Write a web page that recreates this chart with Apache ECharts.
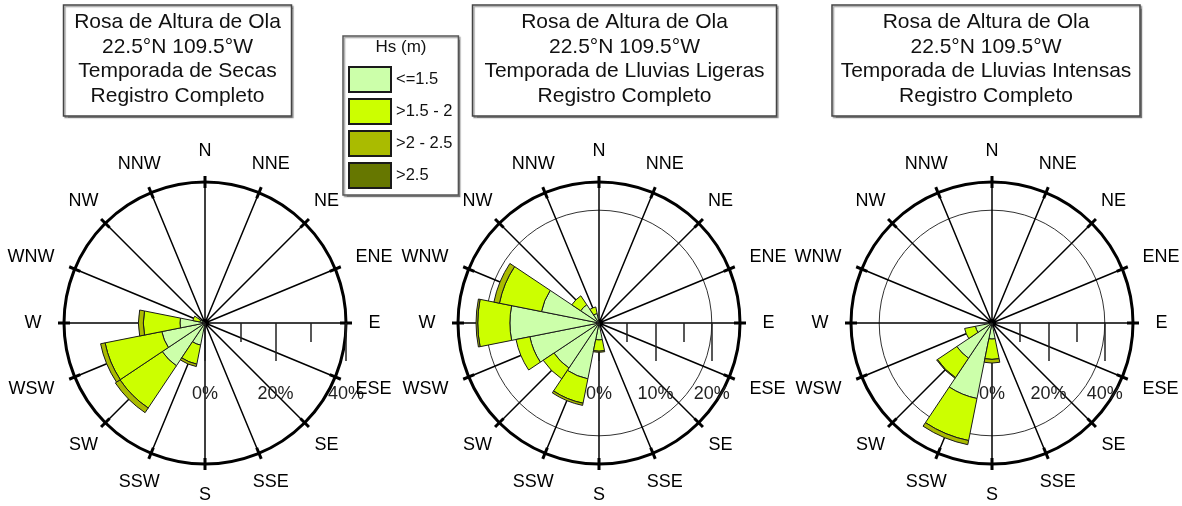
<!DOCTYPE html>
<html>
<head>
<meta charset="utf-8">
<script src="https://cdn.jsdelivr.net/npm/echarts@6/dist/echarts.min.js"></script>
<style>
  html, body { margin: 0; padding: 0; background: #fff; }
  #chart { width: 1182px; height: 506px; }
</style>
</head>
<body>
<div id="chart"></div>
<script>
const FONT = 'Liberation Sans, Arial, sans-serif'

const directions = ['N', 'NNE', 'NE', 'ENE', 'E', 'ESE', 'SE', 'SSE', 'S', 'SSW', 'SW', 'WSW', 'W', 'WNW', 'NW', 'NNW']
const classNames = ['<=1.5', '>1.5 - 2', '>2 - 2.5', '>2.5']
const classColors = ['#ccffaa', '#ccff00', '#aabb00', '#667700']

// frecuencia (%) por dirección, una lista por clase de Hs
const secasLow   = [0, 0, 0, 0, 0, 0, 0, 0, 0, 6.4, 14.6, 12.5, 7.1, 1.5, 0, 0]
const secasMid   = [0, 0, 0, 0, 0, 0, 0, 0, 0, 5.5, 14.4, 16.4, 10.4, 2.0, 0, 0]
const secasHigh  = [0, 0, 0, 0, 0, 0, 0, 0, 0, 0.7, 1.6, 1.3, 1.4, 0, 0, 0]
const secasTop   = [0, 0, 0, 0, 0, 0, 0, 0, 0, 0, 0, 0, 0, 0, 0, 0]

const ligerasLow  = [0, 0, 0, 0, 0, 0, 0, 0, 3.0, 10.1, 9.6, 12.5, 15.8, 10.4, 3.9, 1.7]
const ligerasMid  = [0, 0, 0, 0, 0, 0, 0, 0, 2.0, 4.4, 2.3, 2.5, 5.7, 7.6, 1.9, 1.2]
const ligerasHigh = [0, 0, 0, 0, 0, 0, 0, 0, 0.2, 0.4, 0, 0, 0.3, 1.0, 0, 0]
const ligerasTop  = [0, 0, 0, 0, 0, 0, 0, 0, 0, 0, 0, 0, 0, 0, 0, 0]

const intensasLow  = [0, 0, 0, 0, 0, 0, 0, 0, 5.7, 27.3, 15.0, 6.0, 0, 0, 0, 0]
const intensasMid  = [0, 0, 0, 0, 0, 0, 0, 0, 7.2, 15.2, 8.3, 3.9, 0, 0, 0, 0]
const intensasHigh = [0, 0, 0, 0, 0, 0, 0, 0, 1.3, 1.5, 0.3, 0, 0, 0, 0, 0]
const intensasTop  = [0, 0, 0, 0, 0, 0, 0, 0, 0, 0, 0, 0, 0, 0, 0, 0]

const titleLines = ['Rosa de Altura de Ola', '22.5°N 109.5°W']
const seasons = ['Temporada de Secas', 'Temporada de Lluvias Ligeras', 'Temporada de Lluvias Intensas']
const recordLabel = 'Registro Completo'

// escala radial: máximo del círculo exterior y máximo rotulado
const outerMax = [40, 25, 50]
const labelMax = [40, 20, 40]
const labelStep = [20, 10, 20]

const roses = [
  [secasLow, secasMid, secasHigh, secasTop],
  [ligerasLow, ligerasMid, ligerasHigh, ligerasTop],
  [intensasLow, intensasMid, intensasHigh, intensasTop]
]

// layout
const centers = [[205, 323], [599, 323], [992, 323]]
const R = 141
const LABEL_R = 172
const titleBoxes = [[177.5, 229], [624.5, 305], [986, 308]]

// los rótulos laterales se alinean por el borde, el resto centrado
const labelSide = d => ['ENE', 'E', 'ESE'].includes(d) ? 'right'
  : ['WSW', 'W', 'WNW'].includes(d) ? 'left' : 'inside'

const polar = []
const angleAxis = []
const radiusAxis = []
const series = []
const title = []

roses.forEach((rose, k) => {
  const c = centers[k]
  const tickR = R * labelMax[k] / outerMax[k]

  // rejilla: radios y círculo exterior
  polar.push({ center: c, radius: R })
  angleAxis.push({
    polarIndex: 3 * k,
    type: 'value', min: 0, max: 360, interval: 22.5,
    startAngle: 90, clockwise: true,
    axisLine: { lineStyle: { color: '#000', width: 3 } },
    axisTick: { show: true, length: 6, lineStyle: { color: '#000', width: 3 } },
    axisLabel: { show: false },
    splitLine: { show: true, lineStyle: { color: '#000', width: 1.5 } },
    z: 1
  })
  radiusAxis.push({ polarIndex: 3 * k, min: 0, max: 1, show: false })

  // escala de porcentaje a lo largo del eje E
  polar.push({ center: c, radius: tickR })
  angleAxis.push({
    polarIndex: 3 * k + 1,
    type: 'value', min: 0, max: 360, startAngle: 0,
    axisLine: { show: false }, axisTick: { show: false },
    axisLabel: { show: false }, splitLine: { show: false }
  })
  radiusAxis.push({
    polarIndex: 3 * k + 1,
    min: 0, max: labelMax[k], interval: labelStep[k],
    axisLine: { show: false },
    axisTick: { show: true, length: -38, lineStyle: { color: '#222', width: 1.5 } },
    minorTick: { show: true, splitNumber: 2, length: -19, lineStyle: { color: '#222', width: 1.5 } },
    axisLabel: {
      margin: -80, fontSize: 18, color: '#222', fontFamily: FONT,
      formatter: '{value}%'
    },
    splitLine: {
      show: true,
      lineStyle: { color: ['rgba(0,0,0,0)', 'rgba(0,0,0,0)', '#333'], width: 1 }
    },
    z: 1
  })

  // barras apiladas por dirección
  polar.push({ center: c, radius: R })
  angleAxis.push({
    polarIndex: 3 * k + 2,
    type: 'category', data: directions,
    startAngle: 90 + 11.25, clockwise: true,
    axisLine: { show: false }, axisLabel: { show: false }, splitLine: { show: false },
    axisTick: { show: true, alignWithLabel: true, inside: true, length: 6, lineStyle: { color: '#000', width: 3 } }
  })
  radiusAxis.push({ polarIndex: 3 * k + 2, min: 0, max: outerMax[k], show: false })

  rose.forEach((values, j) => {
    series.push({
      type: 'bar',
      name: classNames[j],
      coordinateSystem: 'polar',
      polarIndex: 3 * k + 2,
      stack: 'rose' + k,
      barCategoryGap: '0%',
      data: values.map(v => v === 0 ? '-' : v),
      itemStyle: { color: classColors[j], borderColor: '#1a1a1a', borderWidth: 1 },
      silent: true,
      z: 3
    })
  })

  // rótulos de dirección sobre cada radio
  series.push({
    type: 'scatter',
    name: 'dir' + k,
    coordinateSystem: 'polar',
    polarIndex: 3 * k + 2,
    clip: false,
    silent: true,
    symbolSize: 1,
    itemStyle: { color: 'rgba(0,0,0,0)', opacity: 1 },
    data: directions.map(d => ({
      value: [outerMax[k] * LABEL_R / R, d],
      label: { position: labelSide(d), distance: labelSide(d) === 'inside' ? 0 : -9 }
    })),
    label: {
      show: true, opacity: 1,
      formatter: p => p.data.value[1],
      fontSize: 18, color: '#000', fontFamily: FONT
    },
    z: 4
  })

  title.push({
    text: [titleLines[0], titleLines[1], seasons[k], recordLabel].join('\n'),
    left: titleBoxes[k][0], top: 5, textAlign: 'center',
    padding: [5, 0, 8, 0],
    backgroundColor: '#fff', borderColor: '#444', borderWidth: 1.5,
    shadowColor: 'rgba(0,0,0,0.35)', shadowBlur: 1, shadowOffsetX: 1.5, shadowOffsetY: 1.5,
    textStyle: {
      fontSize: 21, lineHeight: 24.5, fontWeight: 'normal', color: '#111',
      fontFamily: FONT, width: titleBoxes[k][1]
    }
  })
})

title.push({
  text: 'Hs (m)', left: 401, top: 39, textAlign: 'center', padding: 0,
  textStyle: { fontSize: 17, fontWeight: 'normal', color: '#111', fontFamily: FONT }
})

const chart = echarts.init(document.getElementById('chart'))
chart.setOption({
  animation: false,
  backgroundColor: '#fff',
  title,
  legend: {
    data: classNames,
    orient: 'vertical',
    left: 343, top: 36,
    itemWidth: 42, itemHeight: 25, itemGap: 5,
    padding: [30, 6, 6, 5],
    icon: 'rect',
    selectedMode: false,
    backgroundColor: '#fff', borderColor: '#555', borderWidth: 1.5,
    shadowColor: 'rgba(0,0,0,0.35)', shadowBlur: 1, shadowOffsetX: 1.5, shadowOffsetY: 1.5,
    textStyle: { fontSize: 16.5, color: '#111', fontFamily: FONT }
  },
  polar,
  angleAxis,
  radiusAxis,
  series
})
</script>
</body>
</html>
